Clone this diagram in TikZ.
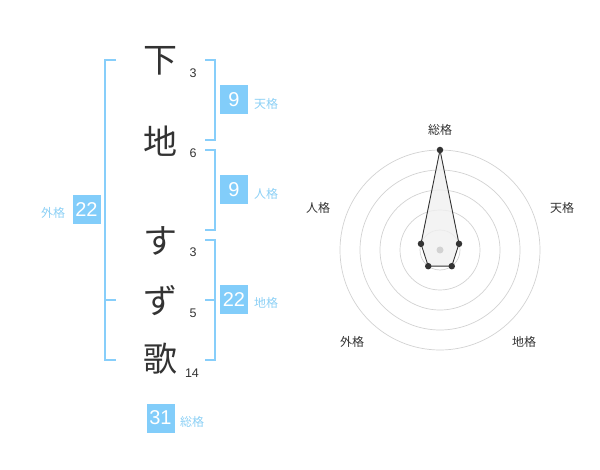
\documentclass[tikz,border=0pt]{standalone}
\usepackage{fontspec}
\setmainfont{Liberation Sans}
\newfontfamily\cjk{Noto Sans CJK JP}
\definecolor{brk}{HTML}{87CEFA}
\definecolor{boxc}{HTML}{82CDFA}
\definecolor{lbl}{HTML}{8CD0F5}
\definecolor{ink}{HTML}{333333}
\definecolor{ringc}{HTML}{D2D2D2}
\begin{document}
\begin{tikzpicture}[x=1pt,y=-1pt,
  bigch/.style={font=\cjk\fontsize{34}{34}\selectfont, text=ink, inner sep=0pt},
  stroke/.style={font=\fontsize{12.5}{12.5}\selectfont, text=ink, inner sep=0pt},
  valbox/.style={fill=boxc, text=white, minimum width=28pt, minimum height=29pt, inner sep=0pt, font=\fontsize{20}{20}\selectfont},
  grlabel/.style={font=\cjk\fontsize{12}{12}\selectfont, text=lbl, inner sep=0pt},
  bracket/.style={draw=brk, line width=2pt},
  ring/.style={draw=ringc, line width=0.7pt},
  axlabel/.style={font=\cjk\fontsize{12}{12}\selectfont, text=ink, inner sep=0pt},
  dot/.style={circle, fill=ink, minimum size=6.5pt, inner sep=0pt}]
\useasboundingbox (0,0) rectangle (600,470);
% characters
\node[bigch] (c1) at (160,61) {下};
\node[bigch] (c2) at (160,141) {地};
\node[bigch] (c3) at (160,241) {す};
\node[bigch] (c4) at (160,301) {ず};
\node[bigch] (c5) at (160,359) {歌};
\node[stroke] (s1) at (193,73) {3};
\node[stroke] (s2) at (193,153) {6};
\node[stroke] (s3) at (193,252) {3};
\node[stroke] (s4) at (193,313) {5};
\node[stroke] (s5) at (192,373) {14};
% brackets
\draw[bracket] (116,60) -- (105,60) -- (105,360) -- (116,360);
\draw[bracket] (105,300) -- (116,300);
\draw[bracket] (205,60) -- (215,60) -- (215,140) -- (205,140);
\draw[bracket] (205,150) -- (215,150) -- (215,230) -- (205,230);
\draw[bracket] (205,240) -- (215,240) -- (215,360) -- (205,360);
\draw[bracket] (205,300) -- (215,300);
% value boxes
\node[valbox] (ten) at (234,100) {9};
\node[grlabel] (tenl) at (266,104) {天格};
\node[valbox] (jin) at (234,190) {9};
\node[grlabel] (jinl) at (266,194) {人格};
\node[valbox] (gai) at (86.5,210) {22};
\node[grlabel] (gail) at (53,213) {外格};
\node[valbox] (chi) at (234,300) {22};
\node[grlabel] (chil) at (266,303) {地格};
\node[valbox] (sou) at (160.5,418) {31};
\node[grlabel] (soul) at (192,422) {総格};
% radar
\coordinate (c) at (440,250);
\foreach \r in {20,40,60,80,100} \draw[ring] (c) circle[radius=\r pt];
\coordinate (p1) at (440,150);
\coordinate (p2) at (459.02,243.82);
\coordinate (p3) at (451.76,266.18);
\coordinate (p4) at (428.24,266.18);
\coordinate (p5) at (420.98,243.82);
\draw[ink, line width=0.9pt, fill=black!6, fill opacity=0.8] (p1) -- (p2) -- (p3) -- (p4) -- (p5) -- cycle;
\node[circle, fill=ringc, minimum size=7pt, inner sep=0pt] (cd) at (c) {};
\node[dot] (d1) at (p1) {};
\node[dot] (d2) at (p2) {};
\node[dot] (d3) at (p3) {};
\node[dot] (d4) at (p4) {};
\node[dot] (d5) at (p5) {};
\node[axlabel] (a1) at (440,130) {総格};
\node[axlabel] (a2) at (562,208) {天格};
\node[axlabel] (a3) at (318,208) {人格};
\node[axlabel] (a4) at (524,342) {地格};
\node[axlabel] (a5) at (352,342) {外格};
\end{tikzpicture}
\end{document}
